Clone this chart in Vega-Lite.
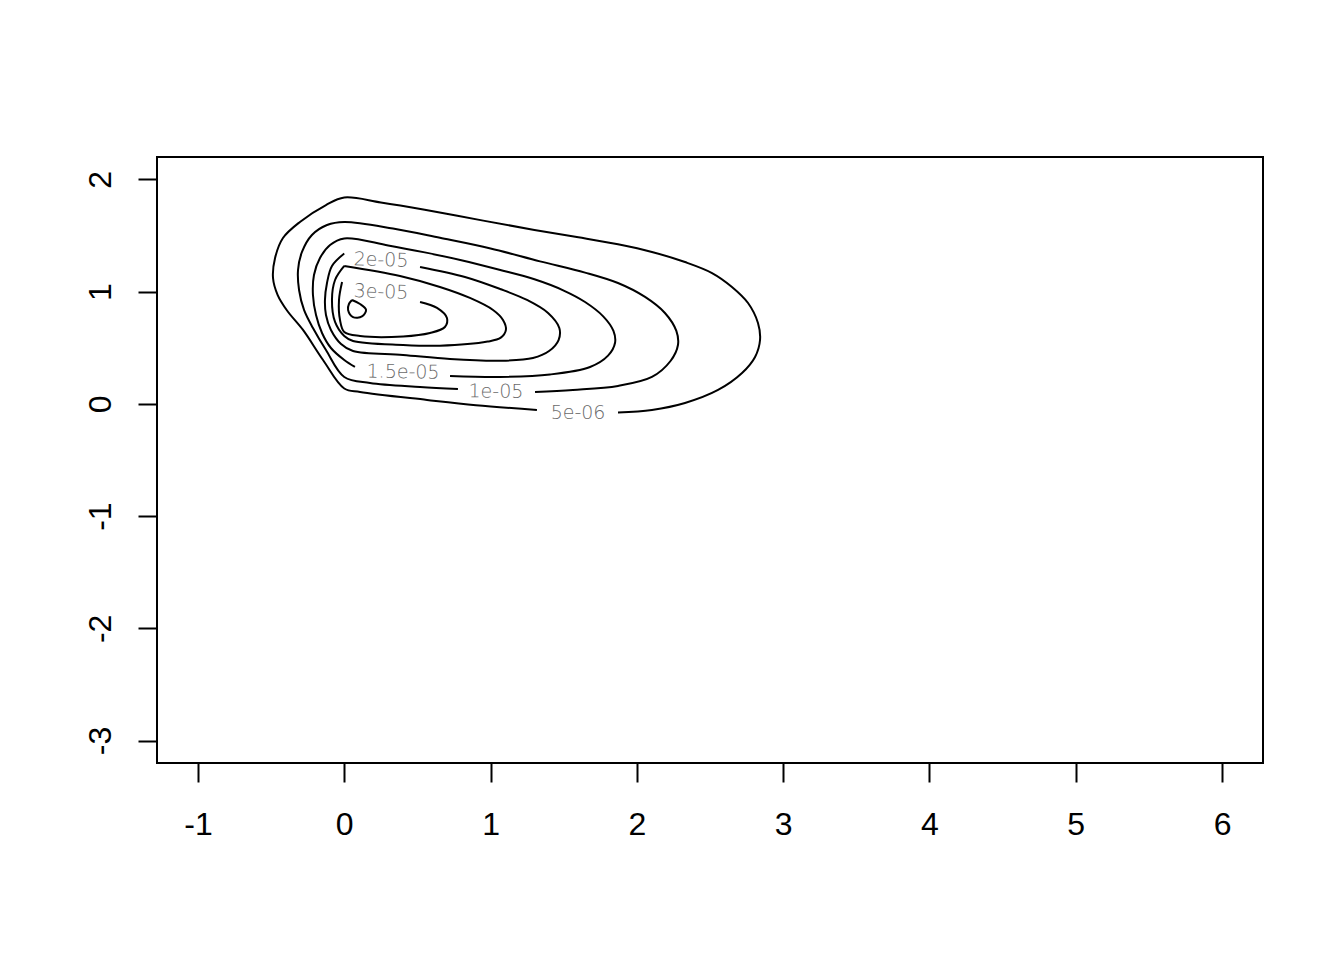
{
  "$schema": "https://vega.github.io/schema/vega-lite/v6.json",
  "width": 1106,
  "height": 606,
  "autosize": {"type": "none"},
  "padding": {"left": 157, "top": 157, "right": 81, "bottom": 197},
  "background": "white",
  "config": {
    "view": {"stroke": "black", "strokeWidth": 2},
    "axis": {
      "domain": false, "grid": false, "tickColor": "black", "tickWidth": 2,
      "tickSize": 19, "labelFont": "Liberation Sans", "labelFontSize": 32,
      "labelColor": "black", "title": null, "labelExpr": "'' + datum.value"
    }
  },
  "datasets": {
    "contours": [
      {"seg":"A","i":1,"x":1.871,"y":-0.077},{"seg":"A","i":2,"x":2.103,"y":-0.054},{"seg":"A","i":3,"x":2.329,"y":0.008},{"seg":"A","i":4,"x":2.555,"y":0.124},{"seg":"A","i":5,"x":2.719,"y":0.275},{"seg":"A","i":6,"x":2.808,"y":0.418},{"seg":"A","i":7,"x":2.842,"y":0.569},{"seg":"A","i":8,"x":2.828,"y":0.721},{"seg":"A","i":9,"x":2.760,"y":0.899},{"seg":"A","i":10,"x":2.650,"y":1.042},{"seg":"A","i":11,"x":2.514,"y":1.166},{"seg":"A","i":12,"x":2.329,"y":1.264},{"seg":"A","i":13,"x":2.103,"y":1.354},{"seg":"A","i":14,"x":1.871,"y":1.422},{"seg":"A","i":15,"x":1.600,"y":1.485},{"seg":"A","i":16,"x":1.300,"y":1.550},{"seg":"A","i":17,"x":0.950,"y":1.633},{"seg":"A","i":18,"x":0.550,"y":1.730},{"seg":"A","i":19,"x":0.250,"y":1.795},{"seg":"A","i":20,"x":0.0,"y":1.839},{"seg":"A","i":21,"x":-0.125,"y":1.772},{"seg":"A","i":22,"x":-0.303,"y":1.621},{"seg":"A","i":23,"x":-0.419,"y":1.478},{"seg":"A","i":24,"x":-0.473,"y":1.300},{"seg":"A","i":25,"x":-0.487,"y":1.122},{"seg":"A","i":26,"x":-0.455,"y":0.970},{"seg":"A","i":27,"x":-0.390,"y":0.830},{"seg":"A","i":28,"x":-0.282,"y":0.659},{"seg":"A","i":29,"x":-0.145,"y":0.391},{"seg":"A","i":30,"x":0.0,"y":0.137},{"seg":"A","i":31,"x":0.108,"y":0.106},{"seg":"A","i":32,"x":0.566,"y":0.035},{"seg":"A","i":33,"x":0.900,"y":-0.012},{"seg":"A","i":34,"x":1.317,"y":-0.054},
      {"seg":"B","i":1,"x":1.304,"y":0.106},{"seg":"B","i":2,"x":1.563,"y":0.124},{"seg":"B","i":3,"x":1.871,"y":0.160},{"seg":"B","i":4,"x":2.103,"y":0.240},{"seg":"B","i":5,"x":2.230,"y":0.382},{"seg":"B","i":6,"x":2.281,"y":0.525},{"seg":"B","i":7,"x":2.270,"y":0.650},{"seg":"B","i":8,"x":2.192,"y":0.810},{"seg":"B","i":9,"x":2.056,"y":0.953},{"seg":"B","i":10,"x":1.871,"y":1.077},{"seg":"B","i":11,"x":1.646,"y":1.170},{"seg":"B","i":12,"x":1.338,"y":1.270},{"seg":"B","i":13,"x":1.000,"y":1.385},{"seg":"B","i":14,"x":0.654,"y":1.480},{"seg":"B","i":15,"x":0.333,"y":1.563},{"seg":"B","i":16,"x":0.0,"y":1.621},{"seg":"B","i":17,"x":-0.118,"y":1.594},{"seg":"B","i":18,"x":-0.221,"y":1.505},{"seg":"B","i":19,"x":-0.289,"y":1.354},{"seg":"B","i":20,"x":-0.316,"y":1.193},{"seg":"B","i":21,"x":-0.309,"y":1.015},{"seg":"B","i":22,"x":-0.275,"y":0.837},{"seg":"B","i":23,"x":-0.214,"y":0.676},{"seg":"B","i":24,"x":-0.125,"y":0.480},{"seg":"B","i":25,"x":0.0,"y":0.240},{"seg":"B","i":26,"x":0.176,"y":0.186},{"seg":"B","i":27,"x":0.518,"y":0.151},{"seg":"B","i":28,"x":0.777,"y":0.133},
      {"seg":"C","i":1,"x":0.723,"y":0.249},{"seg":"C","i":2,"x":1.065,"y":0.240},{"seg":"C","i":3,"x":1.406,"y":0.262},{"seg":"C","i":4,"x":1.680,"y":0.329},{"seg":"C","i":5,"x":1.803,"y":0.430},{"seg":"C","i":6,"x":1.851,"y":0.545},{"seg":"C","i":7,"x":1.840,"y":0.650},{"seg":"C","i":8,"x":1.770,"y":0.780},{"seg":"C","i":9,"x":1.646,"y":0.908},{"seg":"C","i":10,"x":1.500,"y":1.010},{"seg":"C","i":11,"x":1.300,"y":1.110},{"seg":"C","i":12,"x":1.060,"y":1.195},{"seg":"C","i":13,"x":0.800,"y":1.280},{"seg":"C","i":14,"x":0.550,"y":1.350},{"seg":"C","i":15,"x":0.300,"y":1.412},{"seg":"C","i":16,"x":0.0,"y":1.474},{"seg":"C","i":17,"x":-0.097,"y":1.416},{"seg":"C","i":18,"x":-0.166,"y":1.300},{"seg":"C","i":19,"x":-0.207,"y":1.149},{"seg":"C","i":20,"x":-0.214,"y":0.970},{"seg":"C","i":21,"x":-0.193,"y":0.792},{"seg":"C","i":22,"x":-0.152,"y":0.632},{"seg":"C","i":23,"x":-0.091,"y":0.498},{"seg":"C","i":24,"x":0.0,"y":0.391},{"seg":"C","i":25,"x":0.073,"y":0.329},
      {"seg":"D","i":1,"x":0.518,"y":1.220},{"seg":"D","i":2,"x":0.825,"y":1.131},{"seg":"D","i":3,"x":1.065,"y":1.024},{"seg":"D","i":4,"x":1.249,"y":0.926},{"seg":"D","i":5,"x":1.393,"y":0.810},{"seg":"D","i":6,"x":1.470,"y":0.676},{"seg":"D","i":7,"x":1.465,"y":0.569},{"seg":"D","i":8,"x":1.400,"y":0.471},{"seg":"D","i":9,"x":1.290,"y":0.409},{"seg":"D","i":10,"x":1.065,"y":0.385},{"seg":"D","i":11,"x":0.723,"y":0.400},{"seg":"D","i":12,"x":0.402,"y":0.436},{"seg":"D","i":13,"x":0.060,"y":0.471},{"seg":"D","i":14,"x":-0.022,"y":0.534},{"seg":"D","i":15,"x":-0.091,"y":0.659},{"seg":"D","i":16,"x":-0.125,"y":0.792},{"seg":"D","i":17,"x":-0.132,"y":0.926},{"seg":"D","i":18,"x":-0.118,"y":1.077},{"seg":"D","i":19,"x":-0.084,"y":1.229},{"seg":"D","i":20,"x":0.0,"y":1.340},
      {"seg":"E","i":1,"x":0.0,"y":1.229},{"seg":"E","i":2,"x":0.381,"y":1.140},{"seg":"E","i":3,"x":0.654,"y":1.042},{"seg":"E","i":4,"x":0.859,"y":0.944},{"seg":"E","i":5,"x":1.017,"y":0.837},{"seg":"E","i":6,"x":1.085,"y":0.748},{"seg":"E","i":7,"x":1.105,"y":0.659},{"seg":"E","i":8,"x":1.070,"y":0.590},{"seg":"E","i":9,"x":0.980,"y":0.555},{"seg":"E","i":10,"x":0.654,"y":0.518},{"seg":"E","i":11,"x":0.402,"y":0.525},{"seg":"E","i":12,"x":0.060,"y":0.561},{"seg":"E","i":13,"x":0.0,"y":0.605},{"seg":"E","i":14,"x":-0.063,"y":0.730},{"seg":"E","i":15,"x":-0.084,"y":0.926},{"seg":"E","i":16,"x":-0.063,"y":1.104},{"seg":"E","i":17,"x":0.0,"y":1.229},
      {"seg":"F","i":1,"x":0.518,"y":0.908},{"seg":"F","i":2,"x":0.634,"y":0.855},{"seg":"F","i":3,"x":0.702,"y":0.765},{"seg":"F","i":4,"x":0.688,"y":0.685},{"seg":"F","i":5,"x":0.586,"y":0.632},{"seg":"F","i":6,"x":0.402,"y":0.601},{"seg":"F","i":7,"x":0.108,"y":0.605},{"seg":"F","i":8,"x":0.0,"y":0.641},{"seg":"F","i":9,"x":-0.029,"y":0.748},{"seg":"F","i":10,"x":-0.036,"y":0.926},{"seg":"F","i":11,"x":-0.015,"y":1.086},
      {"seg":"G","i":1,"x":0.053,"y":0.926},{"seg":"G","i":2,"x":0.108,"y":0.890},{"seg":"G","i":3,"x":0.149,"y":0.837},{"seg":"G","i":4,"x":0.121,"y":0.779},{"seg":"G","i":5,"x":0.060,"y":0.774},{"seg":"G","i":6,"x":0.026,"y":0.837},{"seg":"G","i":7,"x":0.032,"y":0.890},{"seg":"G","i":8,"x":0.053,"y":0.926}
    ],
    "labels": [
      {"label":"5e-06","x":1.598,"y":-0.081},
      {"label":"1e-05","x":1.037,"y":0.110},
      {"label":"1.5e-05","x":0.402,"y":0.284},
      {"label":"2e-05","x":0.251,"y":1.282},
      {"label":"3e-05","x":0.251,"y":0.997}
    ]
  },
  "layer": [
    {
      "data": {"name": "contours"},
      "mark": {"type": "line", "color": "black", "strokeWidth": 2, "strokeJoin": "round", "interpolate": "catmull-rom"},
      "encoding": {
        "x": {"field": "x", "type": "quantitative",
              "scale": {"domain": [-1.28, 6.28], "nice": false, "zero": false},
              "axis": {"values": [-1,0,1,2,3,4,5,6], "labelPadding": 27, "labelFlush": false}},
        "y": {"field": "y", "type": "quantitative",
              "scale": {"domain": [-3.2, 2.2], "nice": false, "zero": false},
              "axis": {"values": [-3,-2,-1,0,1,2], "labelAngle": 270, "labelAlign": "center", "labelBaseline": "bottom", "labelPadding": 21, "labelFlush": false}},
        "detail": {"field": "seg"},
        "order": {"field": "i", "type": "quantitative"}
      }
    },
    {
      "data": {"name": "labels"},
      "mark": {"type": "text", "font": "DejaVu Sans", "fontSize": 19, "fontWeight": 300, "color": "#6a6a6a", "align": "center", "baseline": "middle"},
      "encoding": {
        "x": {"field": "x", "type": "quantitative"},
        "y": {"field": "y", "type": "quantitative"},
        "text": {"field": "label"},
        "angle": {"field": "label", "type": "nominal",
                  "scale": {"domain": ["5e-06","1e-05","1.5e-05","2e-05","3e-05"], "range": [0, 2, 6, 10, 14]},
                  "legend": null}
      }
    }
  ]
}
